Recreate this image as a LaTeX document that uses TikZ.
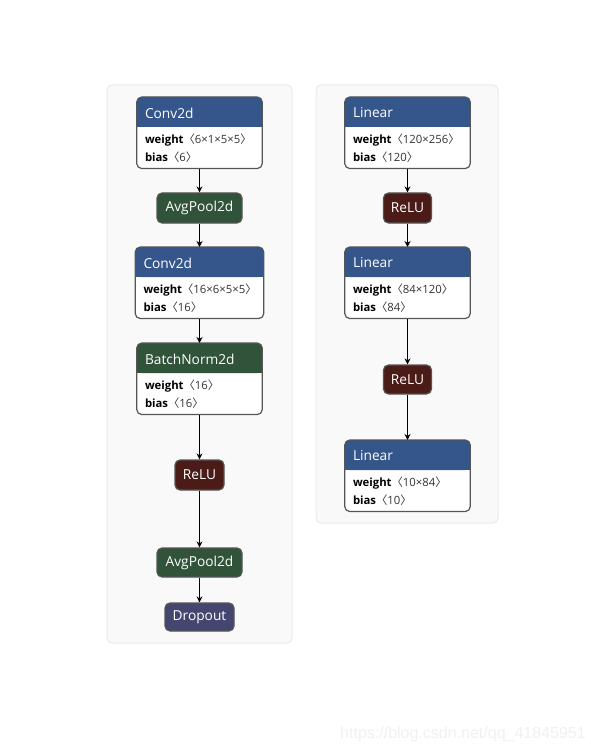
\documentclass[tikz,border=0pt]{standalone}
\usepackage{fontspec}
\setmainfont{Open Sans}
\newfontfamily\cjkb{Noto Sans CJK SC}
\newfontfamily\wmfont{Liberation Sans}
\usetikzlibrary{arrows.meta,calc}
\definecolor{hdrblue}{HTML}{34568B}
\definecolor{hdrgreen}{HTML}{30533A}
\definecolor{relured}{HTML}{4A1B17}
\definecolor{dropcol}{HTML}{45466F}
\definecolor{boxborder}{HTML}{555555}
\definecolor{contfill}{HTML}{F9F9F9}
\definecolor{contborder}{HTML}{EBEBEB}
\definecolor{shapegray}{HTML}{333333}
\newcommand{\prm}[2]{{\bfseries #1}{\color{shapegray}{\cjkb 〈}#2{\cjkb 〉}}}
\tikzset{
  cont/.style={fill=contfill, draw=contborder, line width=0.75pt, rounded corners=3.75pt},
  pboxbg/.style={fill=white, inner sep=0pt, anchor=north},
  pboxline/.style={draw=boxborder, line width=0.9pt, rounded corners=3.75pt},
  hdrtext/.style={text=white, anchor=west, inner sep=0pt, font=\fontsize{10.3}{12}\selectfont},
  bodytext/.style={text=black, anchor=west, inner sep=0pt, font=\fontsize{8.5}{10}\selectfont},
  opnode/.style={draw=boxborder, line width=0.9pt, rounded corners=3.75pt, text=white, inner sep=0pt, font=\fontsize{10.3}{12}\selectfont},
  arr/.style={draw=black, line width=0.8pt, -{Stealth[length=4.5pt,width=4.5pt]}},
}
% name, cx, ytop, width, height, header colour, title, weight, bias
\newcommand{\pbox}[9]{%
  \node[pboxbg, minimum width=#4*0.75pt, minimum height=#5*0.75pt] (#1) at (#2,#3) {};
  \fill[#6, rounded corners=3.75pt] (#1.north west) rectangle ($(#1.north east)+(0,30)$);
  \fill[#6] ($(#1.north west)+(0,20)$) rectangle ($(#1.north east)+(0,30)$);
  \draw[pboxline] (#1.north west) rectangle (#1.south east);
  \node[hdrtext] at ($(#1.north west)+(8,16)$) {#7};
  \node[bodytext] at ($(#1.north west)+(8,43)$) {\prm{weight}{#8}};
  \node[bodytext] at ($(#1.north west)+(8,60)$) {\prm{bias}{#9}};
}
\begin{document}
\begin{tikzpicture}[x=0.75pt,y=-0.75pt]
\useasboundingbox (0,0) rectangle (591,752);
% containers
\draw[cont] (107,85) rectangle (292,643);
\draw[cont] (316,85) rectangle (498,523);
% left column
\pbox{c1}{199.5}{97}{125}{71}{hdrblue}{Conv2d}{6×1×5×5}{6}
\node[opnode, fill=hdrgreen, minimum width=85*0.75pt, minimum height=30*0.75pt] (p1) at (199.5,208) {AvgPool2d};
\pbox{c2}{199.5}{247}{128}{71}{hdrblue}{Conv2d}{16×6×5×5}{16}
\pbox{bn}{199.5}{343}{125}{71}{hdrgreen}{BatchNorm2d}{16}{16}
\node[opnode, fill=relured, minimum width=49*0.75pt, minimum height=30*0.75pt] (r1) at (199.5,475) {ReLU};
\node[opnode, fill=hdrgreen, minimum width=85*0.75pt, minimum height=29*0.75pt] (p2) at (199.5,562.5) {AvgPool2d};
\node[opnode, fill=dropcol, minimum width=69*0.75pt, minimum height=28*0.75pt] (dr) at (199.5,617) {Dropout};
% right column
\pbox{l1}{407.5}{97}{125}{71}{hdrblue}{Linear}{120×256}{120}
\node[opnode, fill=relured, minimum width=48*0.75pt, minimum height=30*0.75pt] (r2) at (407.5,208) {ReLU};
\pbox{l2}{407.5}{247}{125}{71}{hdrblue}{Linear}{84×120}{84}
\node[opnode, fill=relured, minimum width=48*0.75pt, minimum height=29*0.75pt] (r3) at (407.5,379.5) {ReLU};
\pbox{l3}{407.5}{440}{125}{71}{hdrblue}{Linear}{10×84}{10}
% connectors
\draw[arr] (c1.south) -- (p1.north);
\draw[arr] (p1.south) -- (c2.north);
\draw[arr] (c2.south) -- (bn.north);
\draw[arr] (bn.south) -- (r1.north);
\draw[arr] (r1.south) -- (p2.north);
\draw[arr] (p2.south) -- (dr.north);
\draw[arr] (l1.south) -- (r2.north);
\draw[arr] (r2.south) -- (l2.north);
\draw[arr] (l2.south) -- (r3.north);
\draw[arr] (r3.south) -- (l3.north);
% watermark
\node[text=black!6, font=\wmfont\fontsize{12}{14}\selectfont, inner sep=0pt] (wm) at (463,734) {https://blog.csdn.net/qq\_41845951};
\end{tikzpicture}
\end{document}
